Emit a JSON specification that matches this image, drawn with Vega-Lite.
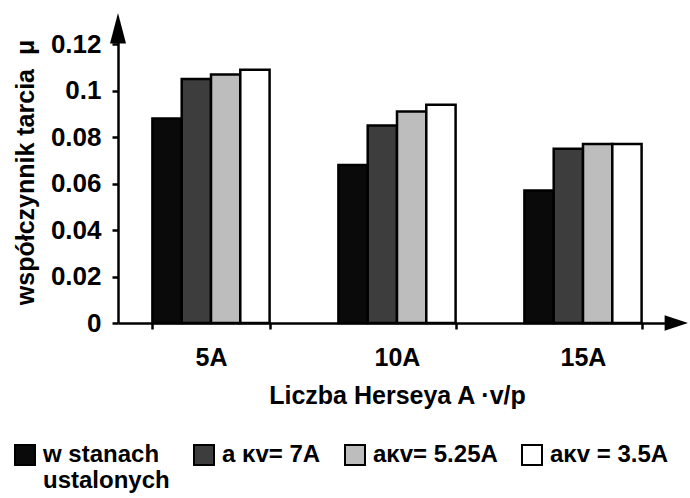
{
  "$schema": "https://vega.github.io/schema/vega-lite/v6.json",
  "width": 558,
  "height": 302,
  "autosize": {"type": "none"},
  "padding": {"left": 118, "top": 21, "right": 14, "bottom": 175},
  "background": "white",
  "config": {
    "view": {"stroke": null},
    "font": "Liberation Sans",
    "axis": {
      "domainColor": "black",
      "domainWidth": 2.5,
      "tickColor": "black",
      "tickWidth": 2.5,
      "tickSize": 6,
      "labelColor": "black",
      "labelFont": "Liberation Sans",
      "labelFontSize": 26,
      "labelFontWeight": "bold",
      "titleColor": "black",
      "titleFont": "Liberation Sans",
      "titleFontSize": 25,
      "titleFontWeight": "bold",
      "grid": false
    }
  },
  "data": {
    "values": [
      {"group": "5A", "series": "w stanach ustalonych", "mu": 0.088},
      {"group": "5A", "series": "a ᴋᴠ= 7A", "mu": 0.105},
      {"group": "5A", "series": "aᴋᴠ= 5.25A", "mu": 0.107},
      {"group": "5A", "series": "aᴋᴠ = 3.5A", "mu": 0.109},
      {"group": "10A", "series": "w stanach ustalonych", "mu": 0.068},
      {"group": "10A", "series": "a ᴋᴠ= 7A", "mu": 0.085},
      {"group": "10A", "series": "aᴋᴠ= 5.25A", "mu": 0.091},
      {"group": "10A", "series": "aᴋᴠ = 3.5A", "mu": 0.094},
      {"group": "15A", "series": "w stanach ustalonych", "mu": 0.057},
      {"group": "15A", "series": "a ᴋᴠ= 7A", "mu": 0.075},
      {"group": "15A", "series": "aᴋᴠ= 5.25A", "mu": 0.077},
      {"group": "15A", "series": "aᴋᴠ = 3.5A", "mu": 0.077}
    ]
  },
  "layer": [
    {
      "mark": {"type": "bar", "stroke": "black", "strokeWidth": 2.5},
      "encoding": {
        "x": {
          "field": "group",
          "type": "nominal",
          "sort": ["5A", "10A", "15A"],
          "scale": {"paddingInner": 0.37, "paddingOuter": 0.185},
          "axis": {
            "title": "Liczba Herseya A ·v/p",
            "labelAngle": 0,
            "labelFontSize": 25,
            "tickBand": "extent",
            "labelPadding": 16,
            "titlePadding": 13
          }
        },
        "xOffset": {
          "field": "series",
          "type": "nominal",
          "sort": ["w stanach ustalonych", "a ᴋᴠ= 7A", "aᴋᴠ= 5.25A", "aᴋᴠ = 3.5A"],
          "scale": {"paddingInner": 0, "paddingOuter": 0}
        },
        "y": {
          "field": "mu",
          "type": "quantitative",
          "scale": {"domain": [0, 0.13], "nice": false},
          "axis": {
            "title": "współczynnik tarcia\u00a0\u00a0μ",
            "values": [0, 0.02, 0.04, 0.06, 0.08, 0.1, 0.12],
            "labelExpr": "'' + datum.value",
            "labelPadding": 11,
            "titlePadding": 12
          }
        },
        "color": {
          "field": "series",
          "type": "nominal",
          "sort": ["w stanach ustalonych", "a ᴋᴠ= 7A", "aᴋᴠ= 5.25A", "aᴋᴠ = 3.5A"],
          "scale": {
            "domain": ["w stanach ustalonych", "a ᴋᴠ= 7A", "aᴋᴠ= 5.25A", "aᴋᴠ = 3.5A"],
            "range": ["#0a0a0a", "#3d3d3d", "#bdbdbd", "#ffffff"]
          },
          "legend": {
            "title": null,
            "orient": "none",
            "legendX": -105,
            "legendY": 422,
            "direction": "horizontal",
            "columns": 4,
            "padding": 0,
            "symbolType": "square",
            "symbolSize": 400,
            "symbolStrokeColor": "black",
            "symbolStrokeWidth": 2,
            "labelFont": "Liberation Sans",
            "labelFontSize": 24,
            "labelFontWeight": "bold",
            "labelColor": "black",
            "labelOffset": 6,
            "labelLimit": 0,
            "columnPadding": 20,
            "labelExpr": "datum.label == 'w stanach ustalonych' ? ['w stanach', 'ustalonych'] : [datum.label, ' ']"
          }
        }
      }
    },
    {
      "data": {"values": [{"arrow": "y"}]},
      "mark": {"type": "point", "shape": "M0,-0.5L0.5,1.4L-0.5,1.4Z", "size": 1024, "filled": true, "color": "black", "opacity": 1, "strokeWidth": 0},
      "encoding": {"x": {"value": 0}, "y": {"value": 0}}
    },
    {
      "data": {"values": [{"arrow": "x"}]},
      "mark": {"type": "point", "shape": "M-0.95,-0.65L1,0L-0.95,0.65Z", "size": 576, "filled": true, "color": "black", "opacity": 1, "strokeWidth": 0},
      "encoding": {"x": {"value": "width"}, "y": {"value": "height"}}
    }
  ]
}
